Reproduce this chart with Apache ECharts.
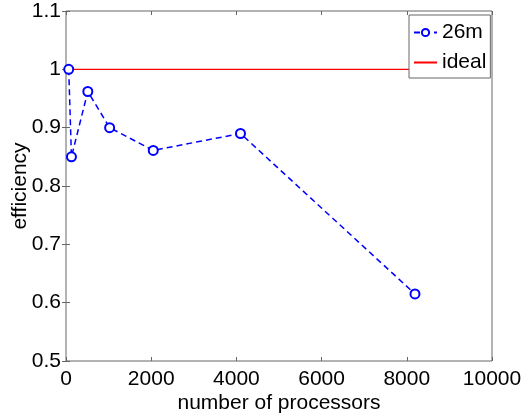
<!DOCTYPE html>
<html>
<head>
<meta charset="utf-8">
<script src="https://cdn.jsdelivr.net/npm/echarts@6/dist/echarts.min.js"></script>
<style>
html, body { margin: 0; padding: 0; background: #fff; }
#main { width: 521px; height: 416px; }
</style>
</head>
<body>
<div id="main"></div>
<script>
// number of processors vs parallel efficiency
var procs = [64, 128, 512, 1024, 2048, 4096, 8192];
var eff26m = [1.0, 0.85, 0.962, 0.9, 0.861, 0.89, 0.615];
var ideal = [1, 1, 1, 1, 1, 1, 1];

function pairs(xs, ys) {
    return xs.map(function (x, i) { return [x, ys[i]]; });
}

var font = 'Liberation Sans';
var axisColor = '#666';
var fs = 21;

var chart = echarts.init(document.getElementById('main'));
chart.setOption({
    animation: false,
    textStyle: { fontFamily: font },
    grid: {
        left: 66, right: 29, top: 11, bottom: 55,
        containLabel: false,
        outerBoundsMode: 'none',
        show: true, borderColor: axisColor, borderWidth: 1
    },
    legend: {
        orient: 'vertical',
        left: 409, top: 15,
        data: ['26m', { name: 'ideal', itemStyle: { opacity: 0 } }],
        backgroundColor: '#fff',
        borderColor: axisColor,
        borderWidth: 1,
        borderRadius: 0,
        padding: [7, 4, 5, 4],
        itemWidth: 23,
        itemHeight: 9,
        itemGap: 9,
        textStyle: { fontSize: fs, color: '#000', fontFamily: font }
    },
    xAxis: [{
        type: 'value',
        min: 0, max: 10000, interval: 2000,
        name: 'number of processors',
        nameLocation: 'middle',
        nameGap: 32,
        nameMoveOverlap: false,
        nameTextStyle: { fontSize: fs, color: '#000', fontFamily: font },
        axisLine: { show: false },
        axisTick: { inside: true, length: 4, lineStyle: { color: axisColor } },
        axisLabel: {
            fontSize: fs, color: '#000', margin: 8, fontFamily: font,
            formatter: function (v) { return String(v); }
        },
        splitLine: { show: false }
    }, {
        type: 'value', position: 'top',
        min: 0, max: 10000, interval: 2000,
        axisLine: { show: false },
        axisTick: { inside: true, length: 4, lineStyle: { color: axisColor } },
        axisLabel: { show: false },
        splitLine: { show: false }
    }],
    yAxis: [{
        type: 'value',
        min: 0.5, max: 1.1, interval: 0.1,
        name: 'efficiency',
        nameLocation: 'middle',
        nameGap: 35,
        nameMoveOverlap: false,
        nameTextStyle: { fontSize: fs, color: '#000', fontFamily: font },
        axisLine: { show: false },
        axisTick: { inside: true, length: 4, lineStyle: { color: axisColor } },
        axisLabel: {
            fontSize: fs, color: '#000', margin: 5, fontFamily: font,
            formatter: function (v) { return String(Math.round(v * 10) / 10); }
        },
        splitLine: { show: false }
    }, {
        type: 'value', position: 'right',
        min: 0.5, max: 1.1, interval: 0.1,
        axisLine: { show: false },
        axisTick: { inside: true, length: 4, lineStyle: { color: axisColor } },
        axisLabel: { show: false },
        splitLine: { show: false }
    }],
    series: [{
        name: '26m',
        type: 'line',
        data: pairs(procs, eff26m),
        symbol: 'emptyCircle',
        symbolSize: 9,
        color: '#0000ff',
        lineStyle: { color: '#0000ff', width: 1.5, type: [6, 4] },
        itemStyle: { color: '#0000ff', borderColor: '#0000ff', borderWidth: 1 },
        z: 3
    }, {
        name: 'ideal',
        type: 'line',
        data: pairs(procs, ideal),
        symbol: 'none',
        color: '#ff0000',
        lineStyle: { color: '#ff0000', width: 1.2 },
        z: 2
    }]
});
</script>
</body>
</html>
